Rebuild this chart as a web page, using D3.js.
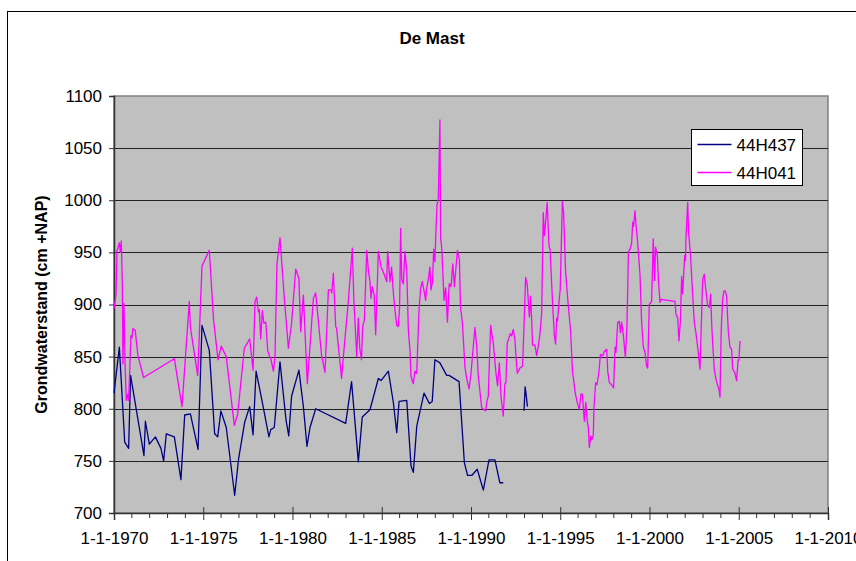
<!DOCTYPE html>
<html>
<head>
<meta charset="utf-8">
<script src="https://cdn.jsdelivr.net/npm/d3@7"></script>
<style>
  body { margin: 0; background: #fff; }
  svg { display: block; }
  text { font-family: Arial, "Liberation Sans", sans-serif; fill: #000; }
</style>
</head>
<body>
<svg id="chart" width="856" height="561"></svg>
<script>
// ---- chart text ----
const chartTitle = "De Mast";
const yAxisTitle = "Grondwaterstand (cm +NAP)";
const seriesNames = ["44H437", "44H041"];
const seriesColors = ["#000080", "#FF00FF"];

// ---- axes ----
const xTickYears = [1970, 1975, 1980, 1985, 1990, 1995, 2000, 2005, 2010];
const yTickValues = [700, 750, 800, 850, 900, 950, 1000, 1050, 1100];

// ---- well 44H437 (decimal year, cm +NAP); null breaks the line ----
const h437Years = [
  1970.00, 1970.30, 1970.60, 1970.82, 1970.93, 1971.68, 1971.76, 1971.98, 1972.32, 1972.63,
  1972.78, 1972.93, 1973.38, 1973.75, 1973.96, 1974.28, 1974.71, 1974.93, 1975.34, 1975.64,
  1975.81, 1975.99, 1976.29, 1976.76, 1976.98, 1977.32, 1977.60, 1977.79, 1977.96, 1978.31,
  1978.68, 1978.78, 1978.98, 1979.30, 1979.64, 1979.79, 1979.95, 1980.36, 1980.61, 1980.81,
  1980.98, 1981.30, 1982.98, 1983.31, 1983.69, 1983.91, 1984.34, 1984.81, 1984.96, 1985.37,
  1985.65, 1985.84, 1985.97, 1986.40, 1986.64, 1986.77, 1986.96, 1987.37, 1987.67, 1987.83,
  1987.98, 1988.26, 1988.64, 1988.77, 1989.33, 1989.63, 1989.81, 1990.04, 1990.35, 1990.69,
  1991.01, 1991.34, 1991.62, 1991.81, 1992.40, 1992.97, 1993.03, 1993.08, 1993.16
];
const h437Levels = [
  815, 859, 768, 762, 832, 755, 788, 766, 773, 762,
  750, 776, 773, 732, 794, 795, 761, 880, 856, 776,
  773, 798, 782, 717, 752, 787, 802, 775, 836, 806,
  773, 780, 782, 845, 789, 774, 812, 837, 802, 764,
  782, 800, 786, 826, 749, 792, 799, 829, 827, 836,
  806, 777, 807, 808, 745, 739, 783, 815, 805, 807,
  847, 844, 832, 832, 826, 748, 736, 736, 742, 722,
  751, 751, 729, 729, null, 798, 821, 815, 802
];

// ---- well 44H041 (decimal year, cm +NAP) ----
const h041Years = [
  1970.00, 1970.11, 1970.17, 1970.22, 1970.30, 1970.36, 1970.41, 1970.47, 1970.50, 1970.56,
  1970.62, 1970.69, 1970.77, 1970.82, 1970.95, 1971.01, 1971.06, 1971.19, 1971.34, 1971.66,
  1973.38, 1973.81, 1974.22, 1974.28, 1974.69, 1974.93, 1975.34, 1975.58, 1975.83, 1976.01,
  1976.29, 1976.74, 1976.93, 1977.30, 1977.60, 1977.79, 1977.90, 1977.99, 1978.09, 1978.14,
  1978.22, 1978.31, 1978.40, 1978.51, 1978.61, 1978.70, 1978.80, 1978.93, 1979.02, 1979.13,
  1979.30, 1979.54, 1979.77, 1979.95, 1980.18, 1980.36, 1980.46, 1980.61, 1980.83, 1981.17,
  1981.30, 1981.63, 1981.82, 1982.01, 1982.16, 1982.20, 1982.29, 1982.42, 1982.47, 1982.75,
  1982.85, 1983.13, 1983.35, 1983.44, 1983.60, 1983.69, 1983.77, 1983.87, 1983.93, 1984.03,
  1984.16, 1984.25, 1984.34, 1984.40, 1984.47, 1984.58, 1984.66, 1984.81, 1984.96, 1985.09,
  1985.28, 1985.33, 1985.46, 1985.55, 1985.65, 1985.74, 1985.84, 1985.93, 1986.00, 1986.06,
  1986.12, 1986.21, 1986.30, 1986.40, 1986.49, 1986.58, 1986.64, 1986.77, 1986.86, 1986.96,
  1987.09, 1987.18, 1987.27, 1987.38, 1987.46, 1987.51, 1987.61, 1987.70, 1987.76, 1987.85,
  1987.91, 1987.98, 1988.04, 1988.10, 1988.17, 1988.26, 1988.30, 1988.37, 1988.49, 1988.58,
  1988.68, 1988.78, 1988.88, 1988.98, 1989.07, 1989.16, 1989.24, 1989.35, 1989.41, 1989.52,
  1989.66, 1989.76, 1989.89, 1990.00, 1990.13, 1990.22, 1990.32, 1990.41, 1990.60, 1990.73,
  1990.82, 1990.90, 1990.97, 1991.10, 1991.25, 1991.40, 1991.49, 1991.59, 1991.68, 1991.81,
  1991.90, 1991.96, 1992.03, 1992.13, 1992.20, 1992.28, 1992.37, 1992.46, 1992.59, 1992.74,
  1992.89, 1992.97, 1993.06, 1993.15, 1993.27, 1993.34, 1993.40, 1993.45, 1993.58, 1993.68,
  1993.77, 1993.87, 1993.96, 1994.05, 1994.11, 1994.18, 1994.27, 1994.37, 1994.43, 1994.56,
  1994.67, 1994.74, 1994.80, 1994.85, 1994.93, 1995.00, 1995.12, 1995.19, 1995.30, 1995.45,
  1995.58, 1995.69, 1995.77, 1995.84, 1995.94, 1996.07, 1996.16, 1996.24, 1996.35, 1996.43,
  1996.52, 1996.57, 1996.63, 1996.71, 1996.76, 1996.85, 1996.89, 1996.98, 1997.06, 1997.17,
  1997.25, 1997.38, 1997.47, 1997.60, 1997.66, 1997.75, 1997.88, 1997.99, 1998.07, 1998.12,
  1998.22, 1998.31, 1998.37, 1998.44, 1998.54, 1998.65, 1998.74, 1998.82, 1998.91, 1999.00,
  1999.06, 1999.11, 1999.19, 1999.24, 1999.34, 1999.47, 1999.56, 1999.65, 1999.75, 1999.84,
  1999.90, 1999.99, 2000.12, 2000.21, 2000.29, 2000.34, 2000.44, 2000.51, 2000.59, 2000.64,
  2001.43, 2001.48, 2001.58, 2001.65, 2001.73, 2001.80, 2001.86, 2001.97, 2002.02, 2002.04,
  2002.14, 2002.19, 2002.30, 2002.40, 2002.51, 2002.60, 2002.68, 2002.75, 2002.83, 2002.88,
  2002.98, 2003.07, 2003.15, 2003.26, 2003.35, 2003.43, 2003.48, 2003.54, 2003.63, 2003.73,
  2003.82, 2003.89, 2003.95, 2004.02, 2004.10, 2004.17, 2004.25, 2004.32, 2004.42, 2004.51,
  2004.60, 2004.66, 2004.77, 2004.88, 2004.96, 2005.01, 2005.07
];
const h041Levels = [
  896, 909, 952, 954, 959, 950, 961, 917, 843, 901,
  843, 808, 814, 808, 870, 868, 877, 875, 851, 830,
  848, 802, 903, 878, 832, 937, 952, 885, 847, 860,
  850, 784, 795, 858, 867, 837, 903, 907, 893, 895,
  867, 894, 882, 883, 856, 851, 847, 836, 850, 939,
  964, 907, 858, 882, 934, 925, 874, 909, 824, 906,
  911, 851, 835, 914, 914, 911, 930, 879, 877, 829,
  850, 903, 954, 904, 850, 887, 858, 847, 879, 885,
  952, 933, 922, 906, 917, 909, 871, 951, 936, 931,
  922, 951, 922, 936, 911, 895, 880, 879, 898, 973,
  924, 920, 951, 933, 876, 856, 831, 824, 836, 834,
  895, 916, 922, 912, 904, 915, 924, 936, 914, 922,
  953, 941, 972, 996, 1002, 1077, 964, 952, 904, 916,
  883, 920, 917, 939, 917, 936, 952, 943, 898, 882,
  840, 829, 819, 834, 860, 878, 860, 831, 801, 799,
  798, 808, 812, 880, 863, 834, 822, 844, 812, 793,
  824, 825, 863, 868, 872, 870, 876, 866, 834, 839,
  841, 880, 926, 919, 888, 908, 884, 861, 861, 851,
  860, 873, 892, 988, 966, 979, 998, 956, 953, 905,
  870, 862, 887, 884, 902, 915, 999, 988, 932, 899,
  875, 835, 825, 815, 807, 799, 814, 814, 788, 806,
  787, 783, 763, 774, 770, 774, 801, 825, 823, 836,
  852, 851, 855, 857, 836, 825, 823, 820, 859, 854,
  883, 884, 873, 883, 870, 849, 881, 951, 953, 959,
  979, 975, 990, 977, 959, 928, 883, 860, 854, 841,
  839, 900, 903, 963, 923, 955, 947, 921, 902, 905,
  903, 891, 887, 865, 884, 927, 910, 947, 942, 963,
  998, 969, 947, 915, 883, 873, 862, 851, 838, 867,
  924, 929, 915, 899, 897, 910, 883, 863, 838, 828,
  822, 819, 811, 876, 905, 913, 913, 908, 873, 859,
  857, 838, 835, 827, 846, 847, 865
];

// decimal year -> Date
function toDate(v) {
  const yr = Math.floor(v);
  const s = new Date(yr, 0, 1), e = new Date(yr + 1, 0, 1);
  return new Date(+s + (v - yr) * (e - s));
}

const svg = d3.select("#chart");
const plot = { left: 114, right: 828, top: 96, bottom: 513 };
const tickFont = 17;

const x = d3.scaleTime()
  .domain([new Date(xTickYears[0], 0, 1), new Date(xTickYears[xTickYears.length - 1], 0, 1)])
  .range([plot.left, plot.right]);
const y = d3.scaleLinear()
  .domain([yTickValues[0], yTickValues[yTickValues.length - 1]])
  .range([plot.bottom, plot.top]);

// chart frame
svg.append("rect")
  .attr("x", 7.5).attr("y", 11.5).attr("width", 900).attr("height", 600)
  .attr("fill", "#fff").attr("stroke", "#000").attr("stroke-width", 1);

// plot background
svg.append("rect")
  .attr("x", plot.left).attr("y", plot.top)
  .attr("width", plot.right - plot.left).attr("height", plot.bottom - plot.top)
  .attr("fill", "#C0C0C0").attr("stroke", "#808080").attr("stroke-width", 1.5);

// horizontal gridlines
svg.append("g").selectAll("line")
  .data(yTickValues.slice(1, -1))
  .join("line")
  .attr("x1", plot.left).attr("x2", plot.right)
  .attr("y1", d => Math.round(y(d)) + 0.5).attr("y2", d => Math.round(y(d)) + 0.5)
  .attr("stroke", "#222").attr("stroke-width", 1);

// y axis
const yAxis = svg.append("g")
  .attr("transform", `translate(${plot.left},0)`)
  .call(d3.axisLeft(y).tickValues(yTickValues).tickSize(5).tickPadding(7).tickFormat(d3.format("d")));
yAxis.select(".domain").attr("stroke", "#333").attr("stroke-width", 1.5);
yAxis.selectAll(".tick line").attr("stroke", "#333");
yAxis.selectAll("text").attr("font-size", tickFont).attr("font-family", "Arial, 'Liberation Sans', sans-serif");

// x axis
const majorDates = xTickYears.map(v => new Date(v, 0, 1));
const xAxis = svg.append("g")
  .attr("transform", `translate(0,${plot.bottom})`)
  .call(d3.axisBottom(x).tickValues(majorDates).tickSize(7).tickPadding(12)
    .tickFormat(d => `1-1-${d.getFullYear()}`));
xAxis.select(".domain").attr("stroke", "#333").attr("stroke-width", 1.5);
xAxis.selectAll(".tick line").attr("stroke", "#333").attr("y1", -6);
xAxis.selectAll("text").attr("font-size", tickFont).attr("font-family", "Arial, 'Liberation Sans', sans-serif");

// minor yearly ticks
const minorDates = d3.range(xTickYears[0], xTickYears[xTickYears.length - 1])
  .filter(v => v % 5 !== 0).map(v => new Date(v, 0, 1));
svg.append("g").selectAll("line")
  .data(minorDates)
  .join("line")
  .attr("x1", d => x(d)).attr("x2", d => x(d))
  .attr("y1", plot.bottom).attr("y2", plot.bottom + 5)
  .attr("stroke", "#333").attr("stroke-width", 1);

// series lines
const line = d3.line()
  .defined(d => d[1] != null)
  .x(d => x(toDate(d[0])))
  .y(d => y(d[1]));

const series = [
  { name: seriesNames[0], color: seriesColors[0], pts: d3.zip(h437Years, h437Levels) },
  { name: seriesNames[1], color: seriesColors[1], pts: d3.zip(h041Years, h041Levels) }
];

svg.append("g").selectAll("path")
  .data(series)
  .join("path")
  .attr("d", d => line(d.pts))
  .attr("fill", "none")
  .attr("stroke", d => d.color)
  .attr("stroke-width", 1.3)
  .attr("stroke-linejoin", "round");

// title
svg.append("text")
  .attr("x", 432).attr("y", 44)
  .attr("text-anchor", "middle")
  .attr("font-size", 17).attr("font-weight", "bold")
  .text(chartTitle);

// y axis title
svg.append("text")
  .attr("transform", `translate(47,${(plot.top + plot.bottom) / 2}) rotate(-90)`)
  .attr("text-anchor", "middle")
  .attr("font-size", 16).attr("font-weight", "bold")
  .text(yAxisTitle);

// legend
const legend = svg.append("g").attr("transform", "translate(691.5,129.5)");
legend.append("rect")
  .attr("width", 111).attr("height", 56)
  .attr("fill", "#fff").attr("stroke", "#000").attr("stroke-width", 1);
const items = legend.selectAll("g.item")
  .data(series)
  .join("g")
  .attr("class", "item")
  .attr("transform", (d, i) => `translate(0,${15 + i * 28})`);
items.append("line")
  .attr("x1", 6).attr("x2", 40)
  .attr("stroke", d => d.color).attr("stroke-width", 1.3);
items.append("text")
  .attr("x", 45).attr("dy", "0.36em")
  .attr("font-size", tickFont)
  .text(d => d.name);
</script>
</body>
</html>
